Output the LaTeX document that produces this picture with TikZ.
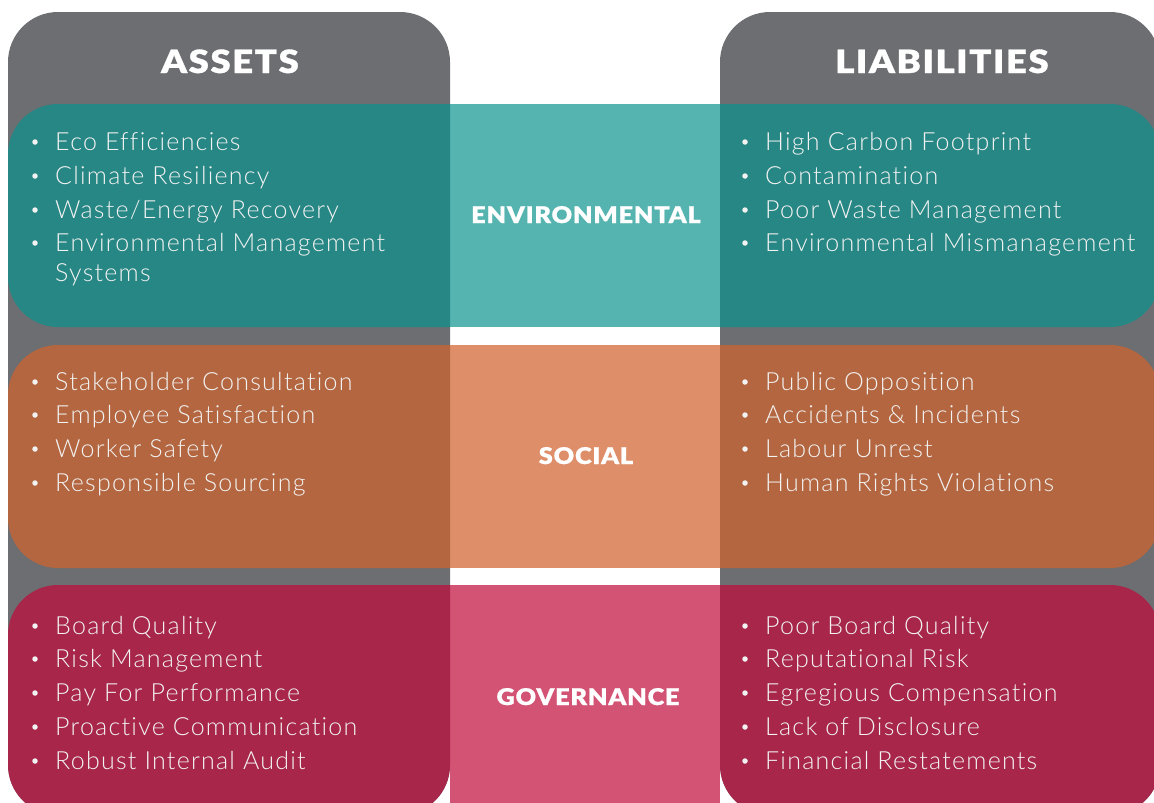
\documentclass[tikz,border=0pt]{standalone}
\usepackage{fontspec}
\setmainfont{Lato}[UprightFont={* Light},BoldFont={* Black}]
\newfontfamily\bodyfont{Lato Light}[LetterSpace=5,Ligatures=NoCommon]
\newfontfamily\headfont{Lato Black}[FakeStretch=1.14,LetterSpace=5,FakeBold=1]
\newfontfamily\catfont{Lato Black}[FakeStretch=1.1,LetterSpace=3.5,FakeBold=0.8]
\definecolor{colgrey}{HTML}{6D6E71}
\definecolor{envdark}{HTML}{278784}
\definecolor{envlight}{HTML}{56B4B0}
\definecolor{socdark}{HTML}{B3663F}
\definecolor{soclight}{HTML}{DE8F6A}
\definecolor{govdark}{HTML}{A7264A}
\definecolor{govlight}{HTML}{D25374}
\definecolor{bodytext}{HTML}{F2F2F2}
\tikzset{
  item/.style={anchor=base west, inner sep=0pt, text=bodytext, font=\bodyfont\fontsize{25}{30}\selectfont},
  dot/.style={circle, fill=bodytext, inner sep=0pt, minimum size=5.5pt},
  header/.style={anchor=base, inner sep=0pt, text=white, font=\headfont\fontsize{32}{38}\selectfont},
  catlabel/.style={anchor=base, inner sep=0pt, text=white, font=\catfont\fontsize{23}{27}\selectfont},
}
\newcommand{\bulletitem}[4]{%
  \node[dot] (#1d) at (#2-20,#3-8) {};
  \node[item] (#1) at (#2,#3) {#4};}
\begin{document}
\begin{tikzpicture}[x=1pt,y=-1pt]
\useasboundingbox (0,0) rectangle (1154,803);
% columns
\fill[colgrey, rounded corners=50] (8,12) rectangle (450,815);
\fill[colgrey, rounded corners=50] (720,12) rectangle (1160,815);
% middle parts of bands
\fill[envlight] (450,104) rectangle (720,327);
\fill[soclight] (450,345) rectangle (720,568);
\fill[govlight] (450,585) rectangle (720,810);
% band parts inside columns
\foreach \cx/\cy in {8/450, 720/1160} {
  \begin{scope}
    \clip[rounded corners=50] (\cx,12) rectangle (\cy,815);
    \fill[envdark, rounded corners=50] (8,104) rectangle (1160,327);
    \fill[socdark, rounded corners=50] (8,345) rectangle (1160,568);
    \fill[govdark, rounded corners=50] (8,585) rectangle (1160,870);
  \end{scope}
}
% headers
\node[header] (assets) at (230,73) {ASSETS};
\node[header] (liab) at (942,73) {LIABILITIES};
% category labels
\node[catlabel] (env) at (586,223) {ENVIRONMENTAL};
\node[catlabel] (soc) at (586,464) {SOCIAL};
\node[catlabel] (gov) at (588,705) {GOVERNANCE};
% environmental
\bulletitem{ea1}{55}{150}{Eco Efficiencies}
\bulletitem{ea2}{55}{184}{Climate Resiliency}
\bulletitem{ea3}{55}{218}{Waste/Energy Recovery}
\bulletitem{ea4}{55}{251}{Environmental Management}
\node[item] (ea4b) at (55,281) {Systems};
\bulletitem{el1}{765}{150}{High Carbon Footprint}
\bulletitem{el2}{765}{184}{Contamination}
\bulletitem{el3}{765}{218}{Poor Waste Management}
\bulletitem{el4}{765}{251}{Environmental Mismanagement}
% social
\bulletitem{sa1}{55}{390}{Stakeholder Consultation}
\bulletitem{sa2}{55}{423}{Employee Satisfaction}
\bulletitem{sa3}{55}{457}{Worker Safety}
\bulletitem{sa4}{55}{491}{Responsible Sourcing}
\bulletitem{sl1}{765}{390}{Public Opposition}
\bulletitem{sl2}{765}{423}{Accidents \& Incidents}
\bulletitem{sl3}{765}{457}{Labour Unrest}
\bulletitem{sl4}{765}{491}{Human Rights Violations}
% governance
\bulletitem{ga1}{55}{634}{Board Quality}
\bulletitem{ga2}{55}{667}{Risk Management}
\bulletitem{ga3}{55}{701}{Pay For Performance}
\bulletitem{ga4}{55}{735}{Proactive Communication}
\bulletitem{ga5}{55}{769}{Robust Internal Audit}
\bulletitem{gl1}{765}{634}{Poor Board Quality}
\bulletitem{gl2}{765}{667}{Reputational Risk}
\bulletitem{gl3}{765}{701}{Egregious Compensation}
\bulletitem{gl4}{765}{735}{Lack of Disclosure}
\bulletitem{gl5}{765}{769}{Financial Restatements}
\end{tikzpicture}
\end{document}
